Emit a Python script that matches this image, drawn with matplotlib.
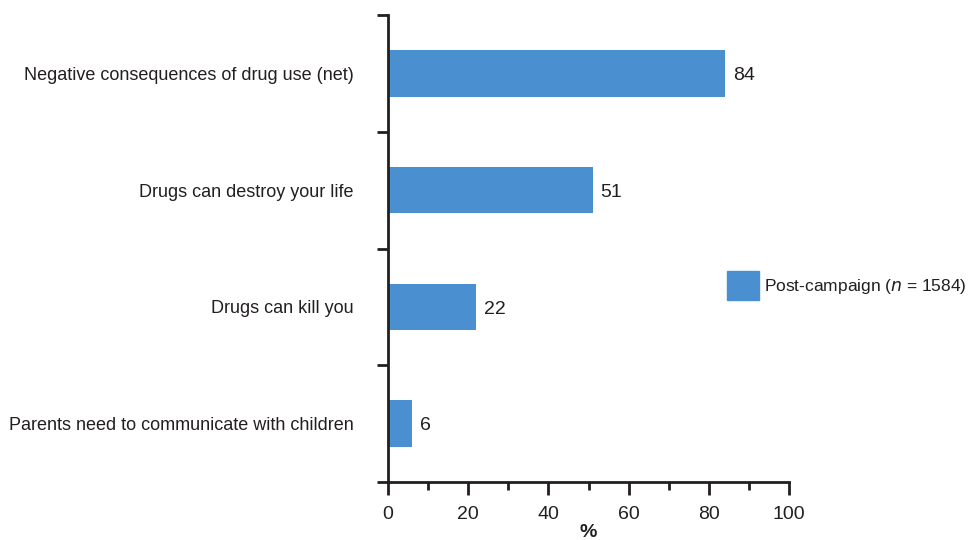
import matplotlib.pyplot as plt
from matplotlib.ticker import FixedLocator, MultipleLocator
from matplotlib.patches import Patch
import numpy as np

plt.rcParams['font.family'] = ['Liberation Sans', 'DejaVu Sans']

categories = ['Negative consequences of drug use (net)',
              'Drugs can destroy your life',
              'Drugs can kill you',
              'Parents need to communicate with children']
values = [84, 51, 22, 6]
bar_color = '#4a8fcf'
ink = '#231f20'
fs = 13
num_fs = 14

fig = plt.figure(figsize=(9.73, 5.4), dpi=100)
ax = fig.add_axes([0.3988, 0.1074, 0.4121, 0.8648])

pos = np.arange(len(categories))
ax.barh(pos, values, height=0.4, color=bar_color)
for p, v in zip(pos, values):
    ax.text(v + 2, p + 0.02, str(v), va='center', ha='left', fontsize=num_fs, color=ink)

ax.set_xlim(0, 100)
ax.set_ylim(len(categories) - 0.5, -0.5)

# boundaries between categories get the tick marks, centres get the labels
ax.yaxis.set_major_locator(FixedLocator(np.arange(-0.5, len(categories), 1.0)))
ax.yaxis.set_major_formatter(plt.NullFormatter())
ax.set_yticks(pos, categories, minor=True)
ax.tick_params(axis='y', which='major', length=8, width=2, color=ink, direction='out')
ax.tick_params(axis='y', which='minor', length=0, pad=25, labelsize=fs, labelcolor=ink)

ax.xaxis.set_major_locator(MultipleLocator(20))
ax.xaxis.set_minor_locator(MultipleLocator(10))
ax.tick_params(axis='x', which='major', length=9, width=2, color=ink, labelsize=num_fs,
               labelcolor=ink, pad=8)
ax.tick_params(axis='x', which='minor', length=6, width=2, color=ink)
ax.set_xlabel('%', fontsize=num_fs, fontweight='bold', color=ink, labelpad=1)

for side in ['top', 'right']:
    ax.spines[side].set_visible(False)
for side in ['left', 'bottom']:
    ax.spines[side].set_linewidth(2)
    ax.spines[side].set_color(ink)

handles = [Patch(color=bar_color, label='Post-campaign ($\\it{n}$ = 1584)')]
fig.legend(handles=handles, loc='center left', bbox_to_anchor=(0.747, 0.472),
           frameon=False, fontsize=12.5, handlelength=1.85, handleheight=2.2,
           handletextpad=0.3, borderaxespad=0, borderpad=0, labelcolor=ink)

fig.savefig('out.png', dpi=100)
